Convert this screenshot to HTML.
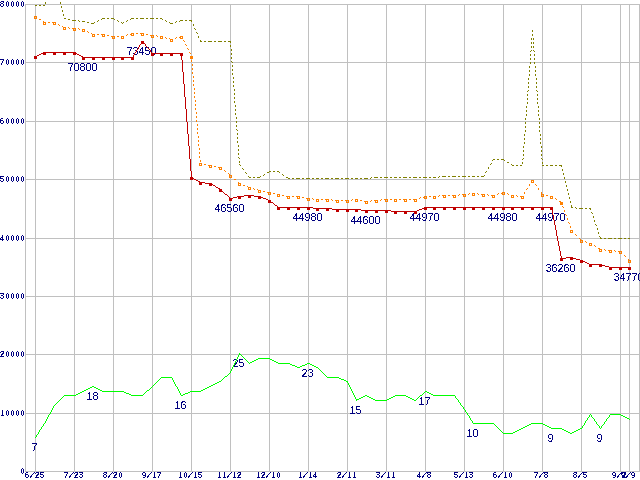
<!DOCTYPE html>
<html><head><meta charset="utf-8"><title>chart</title>
<style>html,body{margin:0;padding:0;background:#fff;width:640px;height:480px;overflow:hidden}</style>
</head><body>
<svg width="640" height="480" viewBox="0 0 640 480" style="display:block;position:absolute;left:0;top:0">
<rect x="0" y="0" width="640" height="480" fill="#ffffff"/>
<defs><filter id="th" x="-5%" y="-20%" width="110%" height="140%" color-interpolation-filters="sRGB"><feComponentTransfer><feFuncA type="discrete" tableValues="0 0 0 0 0 0 0 0 0 1 1 1 1 1 1 1 1 1 1 1"/></feComponentTransfer></filter><filter id="th2" x="-5%" y="-20%" width="110%" height="140%" color-interpolation-filters="sRGB"><feComponentTransfer><feFuncA type="discrete" tableValues="0 0 0 0 0 0 0 0 1 1 1 1 1 1 1 1 1 1 1 1"/></feComponentTransfer></filter></defs>
<path shape-rendering="crispEdges" fill="#c0c0c0" d="M25 4h615v1h-615zM25 62h615v1h-615zM25 121h615v1h-615zM25 179h615v1h-615zM25 238h615v1h-615zM25 296h615v1h-615zM25 354h615v1h-615zM25 413h615v1h-615zM25 471h615v1h-615zM25 4h1v468h-1zM35 4h1v468h-1zM74 4h1v468h-1zM113 4h1v468h-1zM152 4h1v468h-1zM191 4h1v468h-1zM230 4h1v468h-1zM269 4h1v468h-1zM308 4h1v468h-1zM347 4h1v468h-1zM386 4h1v468h-1zM425 4h1v468h-1zM464 4h1v468h-1zM503 4h1v468h-1zM542 4h1v468h-1zM581 4h1v468h-1zM620 4h1v468h-1zM629 4h1v468h-1zM639 4h1v468h-1z"/>
<g font-family="'Liberation Sans', Arial, sans-serif" font-size="10.7px" fill="#000080" text-anchor="middle" filter="url(#th)">
<text x="82.5" y="71">70800</text>
<text x="141.5" y="55">73450</text>
<text x="229.5" y="212">46560</text>
<text x="307.5" y="221">44980</text>
<text x="365.5" y="224">44600</text>
<text x="424.5" y="221">44970</text>
<text x="502.5" y="221">44980</text>
<text x="550.5" y="221">44970</text>
<text x="560.5" y="272">36260</text>
<text x="628.5" y="281">34770</text>
<text x="34.5" y="451">7</text>
<text x="92.5" y="400">18</text>
<text x="180.5" y="409">16</text>
<text x="238.5" y="367">25</text>
<text x="307.5" y="377">23</text>
<text x="355.5" y="414">15</text>
<text x="424.5" y="405">17</text>
<text x="472.5" y="437">10</text>
<text x="550.5" y="442">9</text>
<text x="599.5" y="442">9</text>
</g>
<path shape-rendering="crispEdges" fill="#00ff00" d="M239 354h2v1h-2zM258 358h12v1h-12zM256 359h2v1h-2zM270 359h2v1h-2zM254 360h2v1h-2zM272 360h2v1h-2zM252 361h2v1h-2zM274 361h2v1h-2zM250 362h2v1h-2zM276 362h2v1h-2zM278 363h12v1h-12zM307 363h3v1h-3zM290 364h2v1h-2zM305 364h2v1h-2zM310 364h2v1h-2zM292 365h3v1h-3zM302 365h3v1h-3zM312 365h2v1h-2zM295 366h2v1h-2zM300 366h2v1h-2zM314 366h2v1h-2zM297 367h3v1h-3zM316 367h2v1h-2zM225 376h2v1h-2zM161 377h11v1h-11zM327 377h12v1h-12zM339 378h2v1h-2zM341 379h3v1h-3zM344 380h2v1h-2zM219 381h2v1h-2zM346 381h2v1h-2zM217 382h2v1h-2zM215 383h2v1h-2zM213 384h2v1h-2zM211 385h2v1h-2zM92 386h2v1h-2zM209 386h2v1h-2zM90 387h2v1h-2zM94 387h2v1h-2zM207 387h2v1h-2zM88 388h2v1h-2zM96 388h2v1h-2zM205 388h2v1h-2zM86 389h2v1h-2zM98 389h2v1h-2zM203 389h2v1h-2zM84 390h2v1h-2zM100 390h2v1h-2zM147 390h2v1h-2zM201 390h2v1h-2zM82 391h2v1h-2zM102 391h22v1h-22zM190 391h11v1h-11zM425 391h2v1h-2zM80 392h2v1h-2zM124 392h2v1h-2zM188 392h2v1h-2zM427 392h2v1h-2zM78 393h2v1h-2zM126 393h3v1h-3zM185 393h3v1h-3zM429 393h2v1h-2zM76 394h2v1h-2zM129 394h2v1h-2zM183 394h2v1h-2zM431 394h2v1h-2zM64 395h12v1h-12zM131 395h12v1h-12zM181 395h2v1h-2zM365 395h2v1h-2zM395 395h11v1h-11zM420 395h2v1h-2zM433 395h22v1h-22zM363 396h2v1h-2zM367 396h2v1h-2zM393 396h2v1h-2zM406 396h2v1h-2zM361 397h2v1h-2zM369 397h2v1h-2zM391 397h2v1h-2zM408 397h2v1h-2zM359 398h2v1h-2zM371 398h2v1h-2zM389 398h2v1h-2zM410 398h2v1h-2zM356 399h3v1h-3zM373 399h2v1h-2zM387 399h2v1h-2zM412 399h2v1h-2zM375 400h12v1h-12zM414 400h2v1h-2zM610 414h11v1h-11zM621 415h2v1h-2zM623 416h2v1h-2zM625 417h2v1h-2zM627 418h2v1h-2zM473 423h21v1h-21zM531 423h12v1h-12zM529 424h2v1h-2zM543 424h2v1h-2zM527 425h2v1h-2zM545 425h2v1h-2zM525 426h2v1h-2zM547 426h2v1h-2zM523 427h2v1h-2zM549 427h2v1h-2zM521 428h2v1h-2zM551 428h11v1h-11zM580 428h2v1h-2zM519 429h2v1h-2zM562 429h2v1h-2zM578 429h2v1h-2zM517 430h2v1h-2zM564 430h2v1h-2zM576 430h2v1h-2zM515 431h2v1h-2zM566 431h2v1h-2zM574 431h2v1h-2zM513 432h2v1h-2zM568 432h2v1h-2zM572 432h2v1h-2zM503 433h10v1h-10zM570 433h2v1h-2zM35 437h1v1h-1zM36 435h1v2h-1zM37 434h1v1h-1zM38 432h1v2h-1zM39 430h1v2h-1zM40 429h1v1h-1zM41 427h1v2h-1zM42 426h1v1h-1zM43 424h1v2h-1zM44 423h1v1h-1zM45 421h1v2h-1zM46 419h1v2h-1zM47 417h1v2h-1zM48 415h1v2h-1zM49 414h1v1h-1zM50 412h1v2h-1zM51 410h1v2h-1zM52 408h1v2h-1zM53 406h1v2h-1zM54 405h1v1h-1zM55 404h1v1h-1zM56 403h1v1h-1zM57 402h1v1h-1zM58 401h1v1h-1zM59 400h1v1h-1zM60 399h1v1h-1zM61 398h1v1h-1zM62 397h1v1h-1zM63 396h1v1h-1zM143 394h1v1h-1zM144 393h1v1h-1zM145 392h1v1h-1zM146 391h1v1h-1zM149 389h1v1h-1zM150 388h1v1h-1zM151 387h1v1h-1zM152 386h1v1h-1zM153 385h1v1h-1zM154 384h1v1h-1zM155 383h1v1h-1zM156 382h1v1h-1zM157 381h1v1h-1zM158 380h1v1h-1zM159 379h1v1h-1zM160 378h1v1h-1zM172 378h1v2h-1zM173 380h1v2h-1zM174 382h1v2h-1zM175 384h1v2h-1zM176 386h1v1h-1zM177 387h1v2h-1zM178 389h1v2h-1zM179 391h1v2h-1zM180 393h1v2h-1zM221 380h1v1h-1zM222 379h1v1h-1zM223 378h1v1h-1zM224 377h1v1h-1zM227 375h1v1h-1zM228 374h1v1h-1zM229 373h1v1h-1zM230 371h1v2h-1zM231 369h1v2h-1zM232 367h1v2h-1zM233 365h1v2h-1zM234 363h1v2h-1zM235 361h1v2h-1zM236 359h1v2h-1zM237 357h1v2h-1zM238 355h1v2h-1zM239 353h1v1h-1zM241 355h1v1h-1zM242 356h1v1h-1zM243 357h1v1h-1zM244 358h1v1h-1zM245 359h1v1h-1zM246 360h1v1h-1zM247 361h1v1h-1zM248 362h1v1h-1zM249 363h1v1h-1zM318 368h1v1h-1zM319 369h1v1h-1zM320 370h1v1h-1zM321 371h1v1h-1zM322 372h1v1h-1zM323 373h1v1h-1zM324 374h1v1h-1zM325 375h1v1h-1zM326 376h1v1h-1zM347 382h1v1h-1zM348 383h1v2h-1zM349 385h1v2h-1zM350 387h1v2h-1zM351 389h1v2h-1zM352 391h1v2h-1zM353 393h1v2h-1zM354 395h1v2h-1zM355 397h1v2h-1zM356 400h1v1h-1zM416 399h1v1h-1zM417 398h1v1h-1zM418 397h1v1h-1zM419 396h1v1h-1zM422 394h1v1h-1zM423 393h1v1h-1zM424 392h1v1h-1zM455 396h1v2h-1zM456 398h1v1h-1zM457 399h1v1h-1zM458 400h1v2h-1zM459 402h1v1h-1zM460 403h1v2h-1zM461 405h1v1h-1zM462 406h1v1h-1zM463 407h1v2h-1zM464 409h1v1h-1zM465 410h1v2h-1zM466 412h1v1h-1zM467 413h1v2h-1zM468 415h1v1h-1zM469 416h1v2h-1zM470 418h1v2h-1zM471 420h1v1h-1zM472 421h1v2h-1zM494 424h1v1h-1zM495 425h1v1h-1zM496 426h1v1h-1zM497 427h1v1h-1zM498 428h1v1h-1zM499 429h1v1h-1zM500 430h1v1h-1zM501 431h1v1h-1zM502 432h1v1h-1zM582 426h1v2h-1zM583 425h1v1h-1zM584 423h1v2h-1zM585 421h1v2h-1zM586 420h1v1h-1zM587 418h1v2h-1zM588 417h1v1h-1zM589 415h1v2h-1zM590 414h1v1h-1zM591 415h1v2h-1zM592 417h1v1h-1zM593 418h1v1h-1zM594 419h1v2h-1zM595 421h1v1h-1zM596 422h1v2h-1zM597 424h1v1h-1zM598 425h1v1h-1zM599 426h1v2h-1zM600 428h1v1h-1zM601 426h1v2h-1zM602 425h1v1h-1zM603 424h1v1h-1zM604 422h1v2h-1zM605 421h1v1h-1zM606 419h1v2h-1zM607 418h1v1h-1zM608 417h1v1h-1zM609 415h1v2h-1zM629 419h1v1h-1z"/>
<path shape-rendering="crispEdges" fill="#808000" d="M35 5h2v1h-2zM39 5h2v1h-2zM43 5h2v1h-2zM64 18h2v1h-2zM102 18h3v1h-3zM107 18h2v1h-2zM111 18h3v1h-3zM131 18h3v1h-3zM136 18h2v1h-2zM140 18h4v1h-4zM146 18h2v1h-2zM150 18h4v1h-4zM156 18h2v1h-2zM160 18h2v1h-2zM68 19h2v1h-2zM72 20h4v1h-4zM180 20h3v1h-3zM185 20h2v1h-2zM189 20h3v1h-3zM82 21h3v1h-3zM87 22h2v1h-2zM91 23h3v1h-3zM170 23h3v1h-3zM200 41h2v1h-2zM204 41h2v1h-2zM208 41h4v1h-4zM214 41h2v1h-2zM218 41h4v1h-4zM224 41h2v1h-2zM228 41h3v1h-3zM493 159h2v1h-2zM497 159h2v1h-2zM501 159h3v1h-3zM507 162h2v1h-2zM512 165h2v1h-2zM516 165h2v1h-2zM520 165h2v1h-2zM542 165h2v1h-2zM546 165h2v1h-2zM550 165h3v1h-3zM555 165h2v1h-2zM559 165h3v1h-3zM269 171h2v1h-2zM273 171h2v1h-2zM277 171h2v1h-2zM267 172h2v1h-2zM442 176h4v1h-4zM448 176h2v1h-2zM452 176h4v1h-4zM458 176h2v1h-2zM462 176h4v1h-4zM468 176h2v1h-2zM472 176h3v1h-3zM477 176h2v1h-2zM481 176h3v1h-3zM249 177h2v1h-2zM253 177h2v1h-2zM257 177h3v1h-3zM286 177h2v1h-2zM374 177h4v1h-4zM380 177h2v1h-2zM384 177h4v1h-4zM390 177h2v1h-2zM394 177h3v1h-3zM399 177h2v1h-2zM403 177h4v1h-4zM409 177h2v1h-2zM413 177h4v1h-4zM419 177h2v1h-2zM423 177h4v1h-4zM429 177h2v1h-2zM433 177h3v1h-3zM288 178h2v1h-2zM292 178h2v1h-2zM296 178h4v1h-4zM302 178h2v1h-2zM306 178h4v1h-4zM312 178h2v1h-2zM316 178h3v1h-3zM321 178h2v1h-2zM325 178h4v1h-4zM331 178h2v1h-2zM335 178h4v1h-4zM341 178h2v1h-2zM345 178h4v1h-4zM351 178h2v1h-2zM355 178h3v1h-3zM360 178h2v1h-2zM364 178h4v1h-4zM571 207h2v1h-2zM579 208h4v1h-4zM585 208h2v1h-2zM589 208h2v1h-2zM600 238h2v1h-2zM604 238h2v1h-2zM608 238h4v1h-4zM614 238h2v1h-2zM618 238h4v1h-4zM624 238h2v1h-2zM628 238h2v1h-2zM45 2h1v2h-1zM60 2h1v2h-1zM61 6h1v2h-1zM62 10h1v2h-1zM63 14h1v2h-1zM78 20h1v1h-1zM79 21h1v1h-1zM94 22h1v1h-1zM97 21h1v1h-1zM98 20h1v1h-1zM101 19h1v1h-1zM114 19h1v1h-1zM117 20h1v1h-1zM118 21h1v1h-1zM121 22h1v1h-1zM122 23h1v1h-1zM123 22h1v1h-1zM126 21h1v1h-1zM127 20h1v1h-1zM130 19h1v1h-1zM162 19h1v1h-1zM165 20h1v1h-1zM166 21h1v1h-1zM169 22h1v1h-1zM175 22h1v1h-1zM176 21h1v1h-1zM179 21h1v1h-1zM191 21h1v1h-1zM193 24h1v2h-1zM194 28h1v1h-1zM195 29h1v1h-1zM196 32h1v1h-1zM197 33h1v1h-1zM198 36h1v2h-1zM200 40h1v1h-1zM230 42h1v1h-1zM230 45h1v2h-1zM231 49h1v2h-1zM231 53h1v2h-1zM231 57h1v2h-1zM231 61h1v1h-1zM232 62h1v1h-1zM232 65h1v2h-1zM232 69h1v2h-1zM232 73h1v2h-1zM233 77h1v2h-1zM233 81h1v2h-1zM233 85h1v2h-1zM234 89h1v2h-1zM234 93h1v2h-1zM234 97h1v2h-1zM234 101h1v2h-1zM235 105h1v2h-1zM235 109h1v2h-1zM235 113h1v2h-1zM236 117h1v2h-1zM236 121h1v2h-1zM236 125h1v2h-1zM236 129h1v1h-1zM237 130h1v1h-1zM237 133h1v2h-1zM237 137h1v2h-1zM237 141h1v2h-1zM238 145h1v2h-1zM238 149h1v2h-1zM238 153h1v2h-1zM238 157h1v1h-1zM239 158h1v1h-1zM239 161h1v2h-1zM239 164h1v1h-1zM240 165h1v1h-1zM242 168h1v1h-1zM243 169h1v1h-1zM245 172h1v1h-1zM246 173h1v1h-1zM248 176h1v1h-1zM260 176h1v1h-1zM263 175h1v1h-1zM264 174h1v1h-1zM279 172h1v1h-1zM282 174h1v1h-1zM283 175h1v1h-1zM370 178h1v1h-1zM371 177h1v1h-1zM438 177h1v1h-1zM439 176h1v1h-1zM484 175h1v1h-1zM485 172h1v1h-1zM486 171h1v1h-1zM488 167h1v2h-1zM490 164h1v1h-1zM491 163h1v1h-1zM492 160h1v1h-1zM504 160h1v1h-1zM511 164h1v1h-1zM522 159h1v1h-1zM522 162h1v2h-1zM523 146h1v2h-1zM523 150h1v2h-1zM523 154h1v2h-1zM523 158h1v1h-1zM524 134h1v2h-1zM524 138h1v2h-1zM524 142h1v2h-1zM525 118h1v2h-1zM525 122h1v2h-1zM525 126h1v2h-1zM525 130h1v2h-1zM526 106h1v2h-1zM526 110h1v2h-1zM526 114h1v2h-1zM527 91h1v1h-1zM527 94h1v2h-1zM527 98h1v2h-1zM527 102h1v2h-1zM528 78h1v2h-1zM528 82h1v2h-1zM528 86h1v2h-1zM528 90h1v1h-1zM529 66h1v2h-1zM529 70h1v2h-1zM529 74h1v2h-1zM530 51h1v1h-1zM530 54h1v2h-1zM530 58h1v2h-1zM530 62h1v2h-1zM531 38h1v2h-1zM531 42h1v2h-1zM531 46h1v2h-1zM531 50h1v1h-1zM532 30h1v2h-1zM532 34h1v2h-1zM533 38h1v2h-1zM533 42h1v2h-1zM533 46h1v2h-1zM533 50h1v1h-1zM534 51h1v1h-1zM534 54h1v2h-1zM534 58h1v2h-1zM534 62h1v2h-1zM535 66h1v2h-1zM535 70h1v2h-1zM535 74h1v2h-1zM536 78h1v2h-1zM536 82h1v2h-1zM536 86h1v2h-1zM536 90h1v1h-1zM537 91h1v1h-1zM537 94h1v2h-1zM537 98h1v2h-1zM537 102h1v2h-1zM538 106h1v2h-1zM538 110h1v2h-1zM538 114h1v2h-1zM539 118h1v2h-1zM539 122h1v2h-1zM539 126h1v2h-1zM539 130h1v2h-1zM540 134h1v2h-1zM540 138h1v2h-1zM540 142h1v2h-1zM541 146h1v2h-1zM541 150h1v2h-1zM541 154h1v2h-1zM541 158h1v1h-1zM542 159h1v1h-1zM542 162h1v2h-1zM561 166h1v1h-1zM562 169h1v2h-1zM563 173h1v2h-1zM564 177h1v2h-1zM565 181h1v2h-1zM566 185h1v2h-1zM567 189h1v2h-1zM568 193h1v2h-1zM569 197h1v2h-1zM570 201h1v2h-1zM571 205h1v2h-1zM575 207h1v1h-1zM576 208h1v1h-1zM590 209h1v1h-1zM591 212h1v1h-1zM592 213h1v1h-1zM593 216h1v2h-1zM594 220h1v2h-1zM595 224h1v1h-1zM596 225h1v1h-1zM597 228h1v2h-1zM598 232h1v2h-1zM599 236h1v1h-1zM600 237h1v1h-1z"/>
<path shape-rendering="crispEdges" fill="#ff8000" d="M39 19h2v1h-2zM44 22h2v1h-2zM48 22h2v1h-2zM52 22h3v1h-3zM63 27h3v1h-3zM72 28h4v1h-4zM82 29h2v1h-2zM131 33h3v1h-3zM136 33h2v1h-2zM140 33h4v1h-4zM92 34h3v1h-3zM97 34h2v1h-2zM101 34h4v1h-4zM146 34h2v1h-2zM107 35h2v1h-2zM150 35h4v1h-4zM111 36h4v1h-4zM117 36h2v1h-2zM121 36h3v1h-3zM160 36h3v1h-3zM180 36h2v1h-2zM170 39h3v1h-3zM200 163h2v1h-2zM204 164h2v1h-2zM208 165h4v1h-4zM214 166h2v1h-2zM218 167h3v1h-3zM234 179h2v1h-2zM239 183h2v1h-2zM243 185h2v1h-2zM248 187h3v1h-3zM258 190h3v1h-3zM263 191h2v1h-2zM267 192h4v1h-4zM502 192h3v1h-3zM273 193h2v1h-2zM472 193h3v1h-3zM277 194h3v1h-3zM462 194h4v1h-4zM481 194h4v1h-4zM542 194h2v1h-2zM282 195h2v1h-2zM442 195h4v1h-4zM448 195h2v1h-2zM452 195h4v1h-4zM491 195h4v1h-4zM511 195h3v1h-3zM546 195h2v1h-2zM286 196h4v1h-4zM292 196h2v1h-2zM296 196h4v1h-4zM424 196h3v1h-3zM429 196h2v1h-2zM433 196h3v1h-3zM520 196h3v1h-3zM550 196h2v1h-2zM302 197h2v1h-2zM306 198h4v1h-4zM316 199h3v1h-3zM321 199h2v1h-2zM325 199h4v1h-4zM355 199h3v1h-3zM384 199h4v1h-4zM390 199h2v1h-2zM394 199h3v1h-3zM399 199h2v1h-2zM403 199h4v1h-4zM409 199h2v1h-2zM413 199h4v1h-4zM335 200h4v1h-4zM341 200h2v1h-2zM345 200h4v1h-4zM360 200h2v1h-2zM374 200h4v1h-4zM364 201h4v1h-4zM559 201h2v1h-2zM581 240h2v1h-2zM589 243h2v1h-2zM598 248h2v1h-2zM600 249h2v1h-2zM608 250h4v1h-4zM618 251h3v1h-3zM35 16h1v1h-1zM36 17h1v1h-1zM43 21h1v1h-1zM55 23h1v1h-1zM58 24h1v1h-1zM59 25h1v1h-1zM62 26h1v1h-1zM68 27h1v1h-1zM69 28h1v1h-1zM78 28h1v1h-1zM79 29h1v1h-1zM84 30h1v1h-1zM87 31h1v1h-1zM88 32h1v1h-1zM91 33h1v1h-1zM126 35h1v1h-1zM127 34h1v1h-1zM130 34h1v1h-1zM156 35h1v1h-1zM157 36h1v1h-1zM165 37h1v1h-1zM166 38h1v1h-1zM169 38h1v1h-1zM175 38h1v1h-1zM176 37h1v1h-1zM179 37h1v1h-1zM182 37h1v1h-1zM183 40h1v1h-1zM184 41h1v1h-1zM185 44h1v1h-1zM186 45h1v1h-1zM187 48h1v1h-1zM188 49h1v1h-1zM189 52h1v1h-1zM190 53h1v1h-1zM191 56h1v2h-1zM191 60h1v2h-1zM192 64h1v2h-1zM192 68h1v2h-1zM192 72h1v2h-1zM193 76h1v2h-1zM193 80h1v2h-1zM193 84h1v2h-1zM194 88h1v2h-1zM194 92h1v2h-1zM194 96h1v2h-1zM195 100h1v2h-1zM195 104h1v2h-1zM195 108h1v2h-1zM196 112h1v2h-1zM196 116h1v2h-1zM196 120h1v2h-1zM197 124h1v2h-1zM197 128h1v2h-1zM197 132h1v2h-1zM198 136h1v2h-1zM198 140h1v2h-1zM198 144h1v2h-1zM199 148h1v2h-1zM199 152h1v2h-1zM199 156h1v2h-1zM200 160h1v2h-1zM221 168h1v1h-1zM224 170h1v1h-1zM225 171h1v1h-1zM228 173h1v1h-1zM229 174h1v1h-1zM230 175h1v1h-1zM231 176h1v1h-1zM238 182h1v1h-1zM247 186h1v1h-1zM253 188h1v1h-1zM254 189h1v1h-1zM257 189h1v1h-1zM312 198h1v1h-1zM313 199h1v1h-1zM331 199h1v1h-1zM332 200h1v1h-1zM351 200h1v1h-1zM352 199h1v1h-1zM370 201h1v1h-1zM371 200h1v1h-1zM380 200h1v1h-1zM381 199h1v1h-1zM419 198h1v1h-1zM420 197h1v1h-1zM423 197h1v1h-1zM438 196h1v1h-1zM439 195h1v1h-1zM458 195h1v1h-1zM459 194h1v1h-1zM468 194h1v1h-1zM469 193h1v1h-1zM477 193h1v1h-1zM478 194h1v1h-1zM487 194h1v1h-1zM488 195h1v1h-1zM497 194h1v1h-1zM498 193h1v1h-1zM501 193h1v1h-1zM507 193h1v1h-1zM508 194h1v1h-1zM516 195h1v1h-1zM517 196h1v1h-1zM524 192h1v2h-1zM526 189h1v1h-1zM527 188h1v1h-1zM529 184h1v2h-1zM531 181h1v1h-1zM532 180h1v1h-1zM533 181h1v1h-1zM535 184h1v1h-1zM536 185h1v1h-1zM538 188h1v2h-1zM541 192h1v2h-1zM552 197h1v1h-1zM555 198h1v1h-1zM556 199h1v1h-1zM561 202h1v2h-1zM562 206h1v1h-1zM563 207h1v1h-1zM564 210h1v2h-1zM565 214h1v1h-1zM566 215h1v1h-1zM567 218h1v2h-1zM568 222h1v1h-1zM569 223h1v1h-1zM570 226h1v2h-1zM571 230h1v1h-1zM572 231h1v1h-1zM575 234h1v1h-1zM576 235h1v1h-1zM579 238h1v1h-1zM580 239h1v1h-1zM585 241h1v1h-1zM586 242h1v1h-1zM591 244h1v1h-1zM594 245h1v1h-1zM595 246h1v1h-1zM604 249h1v1h-1zM605 250h1v1h-1zM614 250h1v1h-1zM615 251h1v1h-1zM621 252h1v1h-1zM624 255h1v1h-1zM625 256h1v1h-1zM628 259h1v1h-1zM629 260h1v1h-1z"/>
<path shape-rendering="crispEdges" fill="#c00000" d="M43 52h32v1h-32zM41 53h2v1h-2zM75 53h2v1h-2zM152 53h30v1h-30zM39 54h2v1h-2zM77 54h2v1h-2zM37 55h2v1h-2zM79 55h2v1h-2zM35 56h2v1h-2zM81 56h2v1h-2zM83 57h50v1h-50zM192 178h2v1h-2zM194 179h2v1h-2zM196 180h2v1h-2zM198 181h2v1h-2zM200 182h5v1h-5zM205 183h6v1h-6zM211 184h2v1h-2zM213 185h2v1h-2zM216 187h2v1h-2zM218 188h2v1h-2zM225 194h2v1h-2zM244 195h10v1h-10zM237 196h7v1h-7zM254 196h7v1h-7zM233 197h4v1h-4zM261 197h2v1h-2zM230 198h3v1h-3zM263 198h3v1h-3zM266 199h2v1h-2zM268 200h2v1h-2zM271 202h2v1h-2zM275 205h2v1h-2zM278 207h35v1h-35zM424 207h128v1h-128zM313 208h19v1h-19zM422 208h2v1h-2zM332 209h29v1h-29zM419 209h3v1h-3zM361 210h30v1h-30zM417 210h2v1h-2zM391 211h26v1h-26zM566 257h7v1h-7zM561 258h5v1h-5zM573 258h3v1h-3zM576 259h4v1h-4zM580 260h3v1h-3zM583 261h2v1h-2zM585 262h2v1h-2zM587 263h2v1h-2zM589 264h13v1h-13zM602 265h3v1h-3zM605 266h4v1h-4zM609 267h21v1h-21zM133 55h1v2h-1zM134 53h1v2h-1zM135 52h1v1h-1zM136 50h1v2h-1zM137 49h1v1h-1zM138 47h1v2h-1zM139 45h1v2h-1zM140 44h1v1h-1zM141 42h1v2h-1zM142 41h1v1h-1zM143 42h1v1h-1zM144 43h1v1h-1zM145 44h1v2h-1zM146 46h1v1h-1zM147 47h1v1h-1zM148 48h1v1h-1zM149 49h1v1h-1zM150 50h1v2h-1zM151 52h1v1h-1zM181 54h1v6h-1zM182 60h1v12h-1zM183 72h1v12h-1zM184 84h1v13h-1zM185 97h1v12h-1zM186 109h1v13h-1zM187 122h1v12h-1zM188 134h1v12h-1zM189 146h1v13h-1zM190 159h1v12h-1zM191 171h1v7h-1zM215 186h1v1h-1zM220 189h1v1h-1zM221 190h1v1h-1zM222 191h1v1h-1zM223 192h1v1h-1zM224 193h1v1h-1zM227 195h1v1h-1zM228 196h1v1h-1zM229 197h1v1h-1zM270 201h1v1h-1zM273 203h1v1h-1zM274 204h1v1h-1zM277 206h1v1h-1zM551 208h1v2h-1zM552 210h1v5h-1zM553 215h1v5h-1zM554 220h1v5h-1zM555 225h1v5h-1zM556 230h1v6h-1zM557 236h1v5h-1zM558 241h1v5h-1zM559 246h1v5h-1zM560 251h1v5h-1zM561 256h1v2h-1z"/>
<path shape-rendering="crispEdges" fill="#c00000" d="M34 56h3v3h-3zM43 52h3v3h-3zM53 52h3v3h-3zM63 52h3v3h-3zM73 52h3v3h-3zM82 57h3v3h-3zM92 57h3v3h-3zM102 57h3v3h-3zM112 57h3v3h-3zM121 57h3v3h-3zM131 57h3v3h-3zM141 41h3v3h-3zM151 53h3v3h-3zM160 53h3v3h-3zM170 53h3v3h-3zM180 53h3v3h-3zM190 177h3v3h-3zM199 182h3v3h-3zM209 183h3v3h-3zM219 189h3v3h-3zM229 198h3v3h-3zM238 196h3v3h-3zM248 195h3v3h-3zM258 196h3v3h-3zM268 200h3v3h-3zM277 207h3v3h-3zM287 207h3v3h-3zM297 207h3v3h-3zM307 207h3v3h-3zM316 208h3v3h-3zM326 208h3v3h-3zM336 209h3v3h-3zM346 209h3v3h-3zM355 209h3v3h-3zM365 210h3v3h-3zM375 210h3v3h-3zM385 210h3v3h-3zM394 211h3v3h-3zM404 211h3v3h-3zM414 211h3v3h-3zM424 207h3v3h-3zM433 207h3v3h-3zM443 207h3v3h-3zM453 207h3v3h-3zM463 207h3v3h-3zM472 207h3v3h-3zM482 207h3v3h-3zM492 207h3v3h-3zM502 207h3v3h-3zM511 207h3v3h-3zM521 207h3v3h-3zM531 207h3v3h-3zM541 207h3v3h-3zM550 207h3v3h-3zM560 258h3v3h-3zM570 257h3v3h-3zM580 260h3v3h-3zM589 264h3v3h-3zM599 264h3v3h-3zM609 267h3v3h-3zM619 267h3v3h-3zM628 267h3v3h-3z"/>
<path shape-rendering="crispEdges" fill-rule="evenodd" fill="#ff8000" d="M34 16h3v3h-3zM35 17h1v1h-1zM43 22h3v3h-3zM44 23h1v1h-1zM53 22h3v3h-3zM54 23h1v1h-1zM63 27h3v3h-3zM64 28h1v1h-1zM73 28h3v3h-3zM74 29h1v1h-1zM82 29h3v3h-3zM83 30h1v1h-1zM92 34h3v3h-3zM93 35h1v1h-1zM102 34h3v3h-3zM103 35h1v1h-1zM112 36h3v3h-3zM113 37h1v1h-1zM121 36h3v3h-3zM122 37h1v1h-1zM131 33h3v3h-3zM132 34h1v1h-1zM141 33h3v3h-3zM142 34h1v1h-1zM151 35h3v3h-3zM152 36h1v1h-1zM160 36h3v3h-3zM161 37h1v1h-1zM170 39h3v3h-3zM171 40h1v1h-1zM180 36h3v3h-3zM181 37h1v1h-1zM190 56h3v3h-3zM191 57h1v1h-1zM199 163h3v3h-3zM200 164h1v1h-1zM209 165h3v3h-3zM210 166h1v1h-1zM219 167h3v3h-3zM220 168h1v1h-1zM229 175h3v3h-3zM230 176h1v1h-1zM238 183h3v3h-3zM239 184h1v1h-1zM248 187h3v3h-3zM249 188h1v1h-1zM258 190h3v3h-3zM259 191h1v1h-1zM268 192h3v3h-3zM269 193h1v1h-1zM277 194h3v3h-3zM278 195h1v1h-1zM287 196h3v3h-3zM288 197h1v1h-1zM297 196h3v3h-3zM298 197h1v1h-1zM307 198h3v3h-3zM308 199h1v1h-1zM316 199h3v3h-3zM317 200h1v1h-1zM326 199h3v3h-3zM327 200h1v1h-1zM336 200h3v3h-3zM337 201h1v1h-1zM346 200h3v3h-3zM347 201h1v1h-1zM355 199h3v3h-3zM356 200h1v1h-1zM365 201h3v3h-3zM366 202h1v1h-1zM375 200h3v3h-3zM376 201h1v1h-1zM385 199h3v3h-3zM386 200h1v1h-1zM394 199h3v3h-3zM395 200h1v1h-1zM404 199h3v3h-3zM405 200h1v1h-1zM414 199h3v3h-3zM415 200h1v1h-1zM424 196h3v3h-3zM425 197h1v1h-1zM433 196h3v3h-3zM434 197h1v1h-1zM443 195h3v3h-3zM444 196h1v1h-1zM453 195h3v3h-3zM454 196h1v1h-1zM463 194h3v3h-3zM464 195h1v1h-1zM472 193h3v3h-3zM473 194h1v1h-1zM482 194h3v3h-3zM483 195h1v1h-1zM492 195h3v3h-3zM493 196h1v1h-1zM502 192h3v3h-3zM503 193h1v1h-1zM511 195h3v3h-3zM512 196h1v1h-1zM521 196h3v3h-3zM522 197h1v1h-1zM531 180h3v3h-3zM532 181h1v1h-1zM541 194h3v3h-3zM542 195h1v1h-1zM550 196h3v3h-3zM551 197h1v1h-1zM560 202h3v3h-3zM561 203h1v1h-1zM570 230h3v3h-3zM571 231h1v1h-1zM580 240h3v3h-3zM581 241h1v1h-1zM589 243h3v3h-3zM590 244h1v1h-1zM599 249h3v3h-3zM600 250h1v1h-1zM609 250h3v3h-3zM610 251h1v1h-1zM619 251h3v3h-3zM620 252h1v1h-1zM628 260h3v3h-3zM629 261h1v1h-1z"/>
<g font-family="'Liberation Sans', Arial, sans-serif" font-size="8.5px" font-weight="normal" stroke="#000080" stroke-width="0.15" fill="#000080" text-anchor="middle" filter="url(#th2)">
<text transform="scale(0.65,1)" aria-label="80000"><tspan x="0.00" y="6.9" text-anchor="start" textLength="6.46" lengthAdjust="spacingAndGlyphs">8</tspan><tspan x="11.54" y="6.9">0</tspan><tspan x="19.23" y="6.9">0</tspan><tspan x="26.92" y="6.9">0</tspan><tspan x="34.62" y="6.9">0</tspan></text>
<text transform="scale(0.65,1)" aria-label="70000"><tspan x="0.00" y="64.9" text-anchor="start" textLength="6.46" lengthAdjust="spacingAndGlyphs">7</tspan><tspan x="11.54" y="64.9">0</tspan><tspan x="19.23" y="64.9">0</tspan><tspan x="26.92" y="64.9">0</tspan><tspan x="34.62" y="64.9">0</tspan></text>
<text transform="scale(0.65,1)" aria-label="60000"><tspan x="0.00" y="123.9" text-anchor="start" textLength="6.46" lengthAdjust="spacingAndGlyphs">6</tspan><tspan x="11.54" y="123.9">0</tspan><tspan x="19.23" y="123.9">0</tspan><tspan x="26.92" y="123.9">0</tspan><tspan x="34.62" y="123.9">0</tspan></text>
<text transform="scale(0.65,1)" aria-label="50000"><tspan x="0.00" y="181.9" text-anchor="start" textLength="6.46" lengthAdjust="spacingAndGlyphs">5</tspan><tspan x="11.54" y="181.9">0</tspan><tspan x="19.23" y="181.9">0</tspan><tspan x="26.92" y="181.9">0</tspan><tspan x="34.62" y="181.9">0</tspan></text>
<text transform="scale(0.65,1)" aria-label="40000"><tspan x="0.00" y="240.9" text-anchor="start" textLength="6.46" lengthAdjust="spacingAndGlyphs">4</tspan><tspan x="11.54" y="240.9">0</tspan><tspan x="19.23" y="240.9">0</tspan><tspan x="26.92" y="240.9">0</tspan><tspan x="34.62" y="240.9">0</tspan></text>
<text transform="scale(0.65,1)" aria-label="30000"><tspan x="0.00" y="298.9" text-anchor="start" textLength="6.46" lengthAdjust="spacingAndGlyphs">3</tspan><tspan x="11.54" y="298.9">0</tspan><tspan x="19.23" y="298.9">0</tspan><tspan x="26.92" y="298.9">0</tspan><tspan x="34.62" y="298.9">0</tspan></text>
<text transform="scale(0.65,1)" aria-label="20000"><tspan x="0.00" y="356.9" text-anchor="start" textLength="6.46" lengthAdjust="spacingAndGlyphs">2</tspan><tspan x="11.54" y="356.9">0</tspan><tspan x="19.23" y="356.9">0</tspan><tspan x="26.92" y="356.9">0</tspan><tspan x="34.62" y="356.9">0</tspan></text>
<text transform="scale(0.65,1)" aria-label="10000"><tspan x="1.54" y="415.9" text-anchor="start" textLength="4.46" lengthAdjust="spacingAndGlyphs">1</tspan><tspan x="11.54" y="415.9">0</tspan><tspan x="19.23" y="415.9">0</tspan><tspan x="26.92" y="415.9">0</tspan><tspan x="34.62" y="415.9">0</tspan></text>
<text transform="scale(0.65,1)" aria-label="0"><tspan x="34.62" y="473.9">0</tspan></text>
</g>
<g font-family="'Liberation Sans', Arial, sans-serif" font-size="8.5px" font-weight="normal" stroke="#000080" stroke-width="0.15" fill="#000080" text-anchor="middle" filter="url(#th2)">
<text transform="scale(0.65,1)" aria-label="6/25"><tspan x="38.46" y="477.9" text-anchor="start" textLength="6.46" lengthAdjust="spacingAndGlyphs">6</tspan><tspan x="46.31" y="477.0" text-anchor="start" rotate="38" font-size="12px" stroke-width="0">/</tspan><tspan x="53.85" y="477.9" text-anchor="start" textLength="6.46" lengthAdjust="spacingAndGlyphs">2</tspan><tspan x="61.54" y="477.9" text-anchor="start" textLength="6.46" lengthAdjust="spacingAndGlyphs">5</tspan></text>
<text transform="scale(0.65,1)" aria-label="7/23"><tspan x="98.46" y="477.9" text-anchor="start" textLength="6.46" lengthAdjust="spacingAndGlyphs">7</tspan><tspan x="106.31" y="477.0" text-anchor="start" rotate="38" font-size="12px" stroke-width="0">/</tspan><tspan x="113.85" y="477.9" text-anchor="start" textLength="6.46" lengthAdjust="spacingAndGlyphs">2</tspan><tspan x="121.54" y="477.9" text-anchor="start" textLength="6.46" lengthAdjust="spacingAndGlyphs">3</tspan></text>
<text transform="scale(0.65,1)" aria-label="8/20"><tspan x="158.46" y="477.9" text-anchor="start" textLength="6.46" lengthAdjust="spacingAndGlyphs">8</tspan><tspan x="166.31" y="477.0" text-anchor="start" rotate="38" font-size="12px" stroke-width="0">/</tspan><tspan x="173.85" y="477.9" text-anchor="start" textLength="6.46" lengthAdjust="spacingAndGlyphs">2</tspan><tspan x="185.38" y="477.9">0</tspan></text>
<text transform="scale(0.65,1)" aria-label="9/17"><tspan x="218.46" y="477.9" text-anchor="start" textLength="6.46" lengthAdjust="spacingAndGlyphs">9</tspan><tspan x="226.31" y="477.0" text-anchor="start" rotate="38" font-size="12px" stroke-width="0">/</tspan><tspan x="235.38" y="477.9" text-anchor="start" textLength="4.46" lengthAdjust="spacingAndGlyphs">1</tspan><tspan x="241.54" y="477.9" text-anchor="start" textLength="6.46" lengthAdjust="spacingAndGlyphs">7</tspan></text>
<text transform="scale(0.65,1)" aria-label="10/15"><tspan x="275.38" y="477.9" text-anchor="start" textLength="4.46" lengthAdjust="spacingAndGlyphs">1</tspan><tspan x="285.38" y="477.9">0</tspan><tspan x="289.38" y="477.0" text-anchor="start" rotate="38" font-size="12px" stroke-width="0">/</tspan><tspan x="298.46" y="477.9" text-anchor="start" textLength="4.46" lengthAdjust="spacingAndGlyphs">1</tspan><tspan x="304.62" y="477.9" text-anchor="start" textLength="6.46" lengthAdjust="spacingAndGlyphs">5</tspan></text>
<text transform="scale(0.65,1)" aria-label="11/12"><tspan x="335.38" y="477.9" text-anchor="start" textLength="4.46" lengthAdjust="spacingAndGlyphs">1</tspan><tspan x="343.08" y="477.9" text-anchor="start" textLength="4.46" lengthAdjust="spacingAndGlyphs">1</tspan><tspan x="349.38" y="477.0" text-anchor="start" rotate="38" font-size="12px" stroke-width="0">/</tspan><tspan x="358.46" y="477.9" text-anchor="start" textLength="4.46" lengthAdjust="spacingAndGlyphs">1</tspan><tspan x="364.62" y="477.9" text-anchor="start" textLength="6.46" lengthAdjust="spacingAndGlyphs">2</tspan></text>
<text transform="scale(0.65,1)" aria-label="12/10"><tspan x="395.38" y="477.9" text-anchor="start" textLength="4.46" lengthAdjust="spacingAndGlyphs">1</tspan><tspan x="401.54" y="477.9" text-anchor="start" textLength="6.46" lengthAdjust="spacingAndGlyphs">2</tspan><tspan x="409.38" y="477.0" text-anchor="start" rotate="38" font-size="12px" stroke-width="0">/</tspan><tspan x="418.46" y="477.9" text-anchor="start" textLength="4.46" lengthAdjust="spacingAndGlyphs">1</tspan><tspan x="428.46" y="477.9">0</tspan></text>
<text transform="scale(0.65,1)" aria-label="1/14"><tspan x="460.00" y="477.9" text-anchor="start" textLength="4.46" lengthAdjust="spacingAndGlyphs">1</tspan><tspan x="466.31" y="477.0" text-anchor="start" rotate="38" font-size="12px" stroke-width="0">/</tspan><tspan x="475.38" y="477.9" text-anchor="start" textLength="4.46" lengthAdjust="spacingAndGlyphs">1</tspan><tspan x="481.54" y="477.9" text-anchor="start" textLength="6.46" lengthAdjust="spacingAndGlyphs">4</tspan></text>
<text transform="scale(0.65,1)" aria-label="2/11"><tspan x="518.46" y="477.9" text-anchor="start" textLength="6.46" lengthAdjust="spacingAndGlyphs">2</tspan><tspan x="526.31" y="477.0" text-anchor="start" rotate="38" font-size="12px" stroke-width="0">/</tspan><tspan x="535.38" y="477.9" text-anchor="start" textLength="4.46" lengthAdjust="spacingAndGlyphs">1</tspan><tspan x="543.08" y="477.9" text-anchor="start" textLength="4.46" lengthAdjust="spacingAndGlyphs">1</tspan></text>
<text transform="scale(0.65,1)" aria-label="3/11"><tspan x="578.46" y="477.9" text-anchor="start" textLength="6.46" lengthAdjust="spacingAndGlyphs">3</tspan><tspan x="586.31" y="477.0" text-anchor="start" rotate="38" font-size="12px" stroke-width="0">/</tspan><tspan x="595.38" y="477.9" text-anchor="start" textLength="4.46" lengthAdjust="spacingAndGlyphs">1</tspan><tspan x="603.08" y="477.9" text-anchor="start" textLength="4.46" lengthAdjust="spacingAndGlyphs">1</tspan></text>
<text transform="scale(0.65,1)" aria-label="4/8"><tspan x="641.54" y="477.9" text-anchor="start" textLength="6.46" lengthAdjust="spacingAndGlyphs">4</tspan><tspan x="649.38" y="477.0" text-anchor="start" rotate="38" font-size="12px" stroke-width="0">/</tspan><tspan x="656.92" y="477.9" text-anchor="start" textLength="6.46" lengthAdjust="spacingAndGlyphs">8</tspan></text>
<text transform="scale(0.65,1)" aria-label="5/13"><tspan x="698.46" y="477.9" text-anchor="start" textLength="6.46" lengthAdjust="spacingAndGlyphs">5</tspan><tspan x="706.31" y="477.0" text-anchor="start" rotate="38" font-size="12px" stroke-width="0">/</tspan><tspan x="715.38" y="477.9" text-anchor="start" textLength="4.46" lengthAdjust="spacingAndGlyphs">1</tspan><tspan x="721.54" y="477.9" text-anchor="start" textLength="6.46" lengthAdjust="spacingAndGlyphs">3</tspan></text>
<text transform="scale(0.65,1)" aria-label="6/10"><tspan x="758.46" y="477.9" text-anchor="start" textLength="6.46" lengthAdjust="spacingAndGlyphs">6</tspan><tspan x="766.31" y="477.0" text-anchor="start" rotate="38" font-size="12px" stroke-width="0">/</tspan><tspan x="775.38" y="477.9" text-anchor="start" textLength="4.46" lengthAdjust="spacingAndGlyphs">1</tspan><tspan x="785.38" y="477.9">0</tspan></text>
<text transform="scale(0.65,1)" aria-label="7/8"><tspan x="821.54" y="477.9" text-anchor="start" textLength="6.46" lengthAdjust="spacingAndGlyphs">7</tspan><tspan x="829.38" y="477.0" text-anchor="start" rotate="38" font-size="12px" stroke-width="0">/</tspan><tspan x="836.92" y="477.9" text-anchor="start" textLength="6.46" lengthAdjust="spacingAndGlyphs">8</tspan></text>
<text transform="scale(0.65,1)" aria-label="8/5"><tspan x="881.54" y="477.9" text-anchor="start" textLength="6.46" lengthAdjust="spacingAndGlyphs">8</tspan><tspan x="889.38" y="477.0" text-anchor="start" rotate="38" font-size="12px" stroke-width="0">/</tspan><tspan x="896.92" y="477.9" text-anchor="start" textLength="6.46" lengthAdjust="spacingAndGlyphs">5</tspan></text>
<text transform="scale(0.65,1)" aria-label="9/2"><tspan x="941.54" y="477.9" text-anchor="start" textLength="6.46" lengthAdjust="spacingAndGlyphs">9</tspan><tspan x="949.38" y="477.0" text-anchor="start" rotate="38" font-size="12px" stroke-width="0">/</tspan><tspan x="956.92" y="477.9" text-anchor="start" textLength="6.46" lengthAdjust="spacingAndGlyphs">2</tspan></text>
<text transform="scale(0.65,1)" aria-label="9/9"><tspan x="955.38" y="477.9" text-anchor="start" textLength="6.46" lengthAdjust="spacingAndGlyphs">9</tspan><tspan x="963.23" y="477.0" text-anchor="start" rotate="38" font-size="12px" stroke-width="0">/</tspan><tspan x="970.77" y="477.9" text-anchor="start" textLength="6.46" lengthAdjust="spacingAndGlyphs">9</tspan></text>
</g>
</svg>
</body></html>
